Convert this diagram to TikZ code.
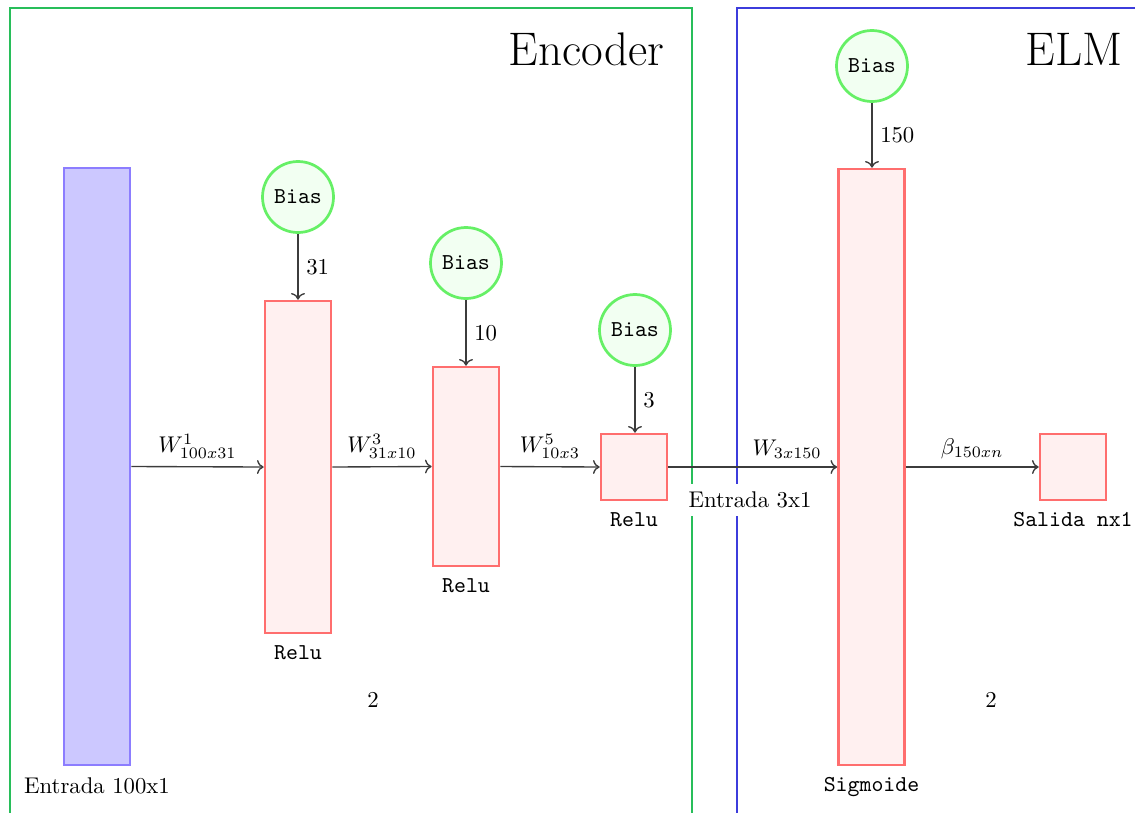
\documentclass[tikz,border=0pt]{standalone}
\usetikzlibrary{arrows.meta}
\definecolor{redd}{RGB}{255,110,110}
\definecolor{redf}{RGB}{255,240,240}
\definecolor{blued}{RGB}{140,125,255}
\definecolor{bluef}{RGB}{204,200,255}
\definecolor{greend}{RGB}{102,240,102}
\definecolor{greenf}{RGB}{242,255,242}
\definecolor{encframe}{RGB}{40,190,90}
\definecolor{elmframe}{RGB}{60,60,220}
\definecolor{arrc}{RGB}{60,60,60}
\begin{document}
\begin{tikzpicture}[x=0.44pt,y=-0.44pt,
  layerbox/.style={draw=redd, fill=redf, line width=1.2pt, minimum width={66*0.44pt}, inner sep=0pt},
  inbox/.style={draw=blued, fill=bluef, line width=1.2pt, minimum width={66*0.44pt}, inner sep=0pt},
  biasnode/.style={circle, draw=greend, fill=greenf, line width=1.2pt, minimum size={71*0.44pt}, inner sep=0pt, font=\ttfamily},
  arr/.style={->, draw=arrc, line width=0.6pt},
  lbl/.style={anchor=north, inner sep=0pt},
  ttlbl/.style={anchor=north, inner sep=0pt, font=\ttfamily},
  frametitle/.style={anchor=base east, inner sep=0pt, font=\fontsize{20.74}{25}\selectfont}
]
\useasboundingbox (0,0) rectangle (1135,812);
\clip (0,0) rectangle (1135,812);

% frames
\draw[encframe, line width=0.7pt] (10,8) rectangle (692,840);
\draw[elmframe, line width=0.7pt] (737,8) rectangle (1160,840);
\node[frametitle] (tenc) at (665,65) {Encoder};
\node[frametitle] (telm) at (1123,65) {ELM};

% layers
\node[inbox, minimum height={597*0.44pt}] (in) at (97,466.5) {};
\node[layerbox, minimum height={332*0.44pt}] (r1) at (298,467) {};
\node[layerbox, minimum height={199*0.44pt}] (r2) at (466,466.5) {};
\node[layerbox, minimum height={66*0.44pt}] (r3) at (634,467) {};
\node[layerbox, minimum height={596*0.44pt}] (sig) at (871.5,467) {};
\node[layerbox, minimum height={66*0.44pt}] (out) at (1073,467) {};

% bias
\node[biasnode] (b1) at (298,197) {Bias};
\node[biasnode] (b2) at (466,263) {Bias};
\node[biasnode] (b3) at (635,330) {Bias};
\node[biasnode] (b4) at (872,66) {Bias};

\draw[arr] (b1) -- node[right] {31} (b1 |- r1.north);
\draw[arr] (b2) -- node[right] {10} (b2 |- r2.north);
\draw[arr] (b3) -- node[right] {3} (b3 |- r3.north);
\draw[arr] (b4) -- node[right] {150} (b4 |- sig.north);

% labels
\node[lbl] (lin) at ([yshift={-11*0.44pt}]in.south) {Entrada 100x1};
\node[ttlbl] (l1) at ([yshift={-11*0.44pt}]r1.south) {Relu};
\node[ttlbl] (l2) at ([yshift={-11*0.44pt}]r2.south) {Relu};
\node[ttlbl] (l3) at ([yshift={-11*0.44pt}]r3.south) {Relu};
\node[ttlbl] (lsig) at ([yshift={-11*0.44pt}]sig.south) {Sigmoide};
\node[ttlbl] (lout) at ([yshift={-11*0.44pt}]out.south) {Salida nx1};

% connections
\coordinate (e3) at (737,467);
\draw[arr] (in.east) -- node[above] {$W^{1}_{100x31}$} (r1.west);
\draw[arr] (r1.east) -- node[above] {$W^{3}_{31x10}$} (r2.west);
\draw[arr] (r2.east) -- node[above] {$W^{5}_{10x3}$} (r3.west);
\draw[arr] (r3.east) -- (e3) -- node[above] {$W_{3x150}$} (sig.west);
\draw[arr] (sig.east) -- node[above] {$\beta_{150xn}$} (out.west);

\node[fill=white] (ent3) at (750,500) {Entrada 3x1};

\node (two1) at (373,700) {2};
\node (two2) at (991,700) {2};
\end{tikzpicture}
\end{document}
